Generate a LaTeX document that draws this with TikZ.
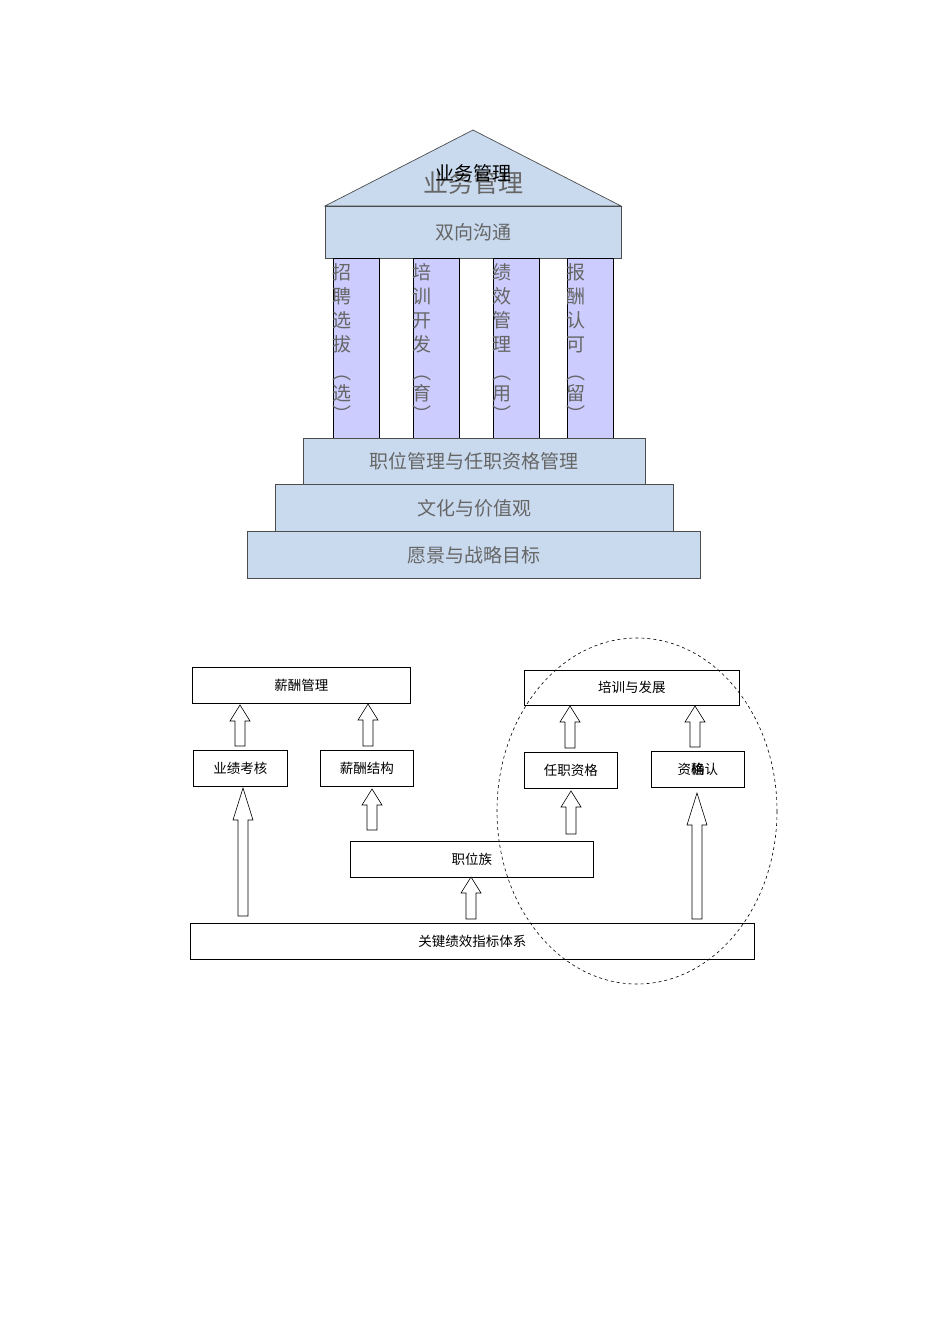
\documentclass[tikz,border=0pt]{standalone}
\usepackage{fontspec}
\setmainfont{Noto Sans CJK SC}
\begin{document}
\begin{tikzpicture}[x=1pt,y=-1pt,
  blu/.style={draw=black!70,fill=blue!20!cyan!10!white,line width=0.7pt},
  pil/.style={draw=black,fill=blue!20,line width=0.7pt},
  big/.style={text=black!60,font=\fontsize{19}{19}\selectfont},
  vt/.style={text=black!60,font=\fontsize{19}{24}\selectfont,align=center,anchor=north,inner sep=0pt},
  box/.style={draw=black,line width=0.6pt,font=\fontsize{13.5}{14}\selectfont,inner sep=0pt}]
\useasboundingbox (0,0) rectangle (950,1344);
\definecolor{lb}{RGB}{201,218,238}
\definecolor{pl}{RGB}{204,204,255}
% temple
\draw[blu,fill=lb] (325,206) -- (473,130) -- (621,206) -- cycle;
\node[big,font=\fontsize{25}{25}\selectfont] (roof2) at (473,183) {业务管理};
\node[font=\fontsize{19}{19}\selectfont] (roof1) at (473,173) {业务管理};
\node[blu,fill=lb,minimum width=296pt,minimum height=52pt,anchor=north west,big] (comm) at (325,206) {双向沟通};
\foreach \x/\t/\p in {333/招\\聘\\选\\拔/选, 413/培\\训\\开\\发/育, 493/绩\\效\\管\\理/用, 567/报\\酬\\认\\可/留}{
  \draw[draw=black,fill=pl,line width=0.7pt] (\x,258) rectangle ++(46,180);
  \node[vt] at (\x+9,263) {\t\\[4pt]︵\\[-3pt]\p\\[-3pt]︶};
}
\node[blu,fill=lb,minimum width=342pt,minimum height=46pt,anchor=north west,big] (s1) at (303,438) {职位管理与任职资格管理};
\node[blu,fill=lb,minimum width=398pt,minimum height=47pt,anchor=north west,big] (s2) at (275,484) {文化与价值观};
\node[blu,fill=lb,minimum width=453pt,minimum height=47pt,anchor=north west,big] (s3) at (247,531) {愿景与战略目标};
% bottom
\node[box,minimum width=218pt,minimum height=36pt,anchor=north west] (xc) at (192,667) {薪酬管理};
\node[box,minimum width=215pt,minimum height=35pt,anchor=north west] (px) at (524,670) {培训与发展};
\node[box,minimum width=94pt,minimum height=36pt,anchor=north west] (yj) at (193,750) {业绩考核};
\node[box,minimum width=93pt,minimum height=36pt,anchor=north west] (jg) at (320,750) {薪酬结构};
\node[box,minimum width=93pt,minimum height=36pt,anchor=north west] (rz) at (524,752) {任职资格};
\node[box,minimum width=93pt,minimum height=36pt,anchor=north west] (qr) at (651,751) {资\rlap{格}确认};
\node[box,minimum width=243pt,minimum height=36pt,anchor=north west] (zw) at (350,841) {职位族};
\node[box,minimum width=564pt,minimum height=36pt,anchor=north west] (kpi) at (190,923) {关键绩效指标体系};
\draw[dashed,line width=0.6pt] (637,811) ellipse [x radius=140, y radius=173];
% hollow arrows: x, bottom, top, head length
\foreach \x/\b/\t/\h in {240/746/705/16, 368/746/704/16, 570/748/706/16, 695/747/706/16,
                         372/830/789/16, 571/834/791/16, 471/919/877/16, 243/916/788/32, 697/919/793/32}{
  \draw[line width=0.6pt,fill=white] (\x-5,\b) -- (\x-5,\t+\h) -- (\x-10,\t+\h) -- (\x,\t) -- (\x+10,\t+\h) -- (\x+5,\t+\h) -- (\x+5,\b) -- cycle;
}
\end{tikzpicture}
\end{document}
